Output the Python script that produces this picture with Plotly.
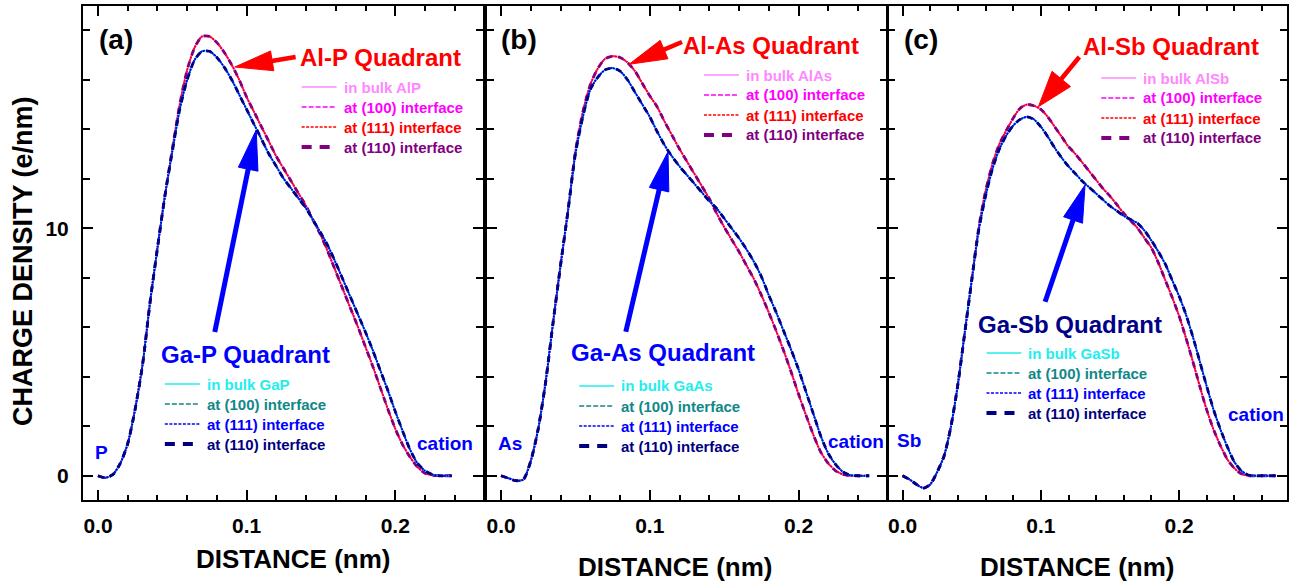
import plotly.graph_objects as go

# ---------------- data ----------------
x_a = [0.000, 0.005, 0.010, 0.015, 0.020, 0.025, 0.030, 0.035, 0.040, 0.045,
       0.050, 0.055, 0.060, 0.065, 0.070, 0.075, 0.080, 0.085, 0.090, 0.095,
       0.100, 0.105, 0.110, 0.115, 0.120, 0.125, 0.130, 0.135, 0.140, 0.145,
       0.150, 0.155, 0.160, 0.165, 0.170, 0.175, 0.180, 0.185, 0.190, 0.195,
       0.200, 0.205, 0.210, 0.215, 0.220, 0.225, 0.230, 0.235, 0.238]
al_p = [0.00, -0.08, 0.05, 0.50, 1.30, 2.70, 4.50, 7.00, 9.20, 11.30,
        13.20, 15.00, 16.40, 17.30, 17.75, 17.75, 17.50, 17.10, 16.60, 16.00,
        15.30, 14.70, 14.10, 13.50, 12.90, 12.40, 11.90, 11.40, 10.90, 10.30,
        9.70, 9.00, 8.25, 7.50, 6.75, 6.00, 5.20, 4.40, 3.55, 2.70,
        1.90, 1.25, 0.75, 0.35, 0.10, 0.02, 0.00, 0.00, 0.00]
ga_p = [0.00, -0.08, 0.05, 0.50, 1.30, 2.70, 4.50, 7.00, 9.20, 11.30,
        13.10, 14.80, 16.00, 16.80, 17.15, 17.15, 16.90, 16.50, 16.00, 15.40,
        14.80, 14.20, 13.60, 13.00, 12.50, 12.00, 11.60, 11.20, 10.80, 10.30,
        9.80, 9.25, 8.60, 7.90, 7.20, 6.50, 5.80, 5.05, 4.25, 3.45,
        2.60, 1.80, 1.05, 0.50, 0.20, 0.05, 0.00, 0.00, 0.00]

x_b = [0.000, 0.005, 0.010, 0.015, 0.020, 0.025, 0.030, 0.035, 0.040, 0.045,
       0.050, 0.055, 0.060, 0.065, 0.070, 0.075, 0.080, 0.085, 0.090, 0.095,
       0.100, 0.105, 0.110, 0.115, 0.120, 0.125, 0.130, 0.135, 0.140, 0.145,
       0.150, 0.155, 0.160, 0.165, 0.170, 0.175, 0.180, 0.185, 0.190, 0.195,
       0.200, 0.205, 0.210, 0.215, 0.220, 0.225, 0.230, 0.235, 0.240, 0.245, 0.2475]
al_as = [0.00, -0.10, -0.20, -0.15, 0.60, 1.90, 3.80, 6.20, 8.50, 10.70,
         13.10, 14.70, 15.80, 16.45, 16.85, 16.95, 16.90, 16.70, 16.35, 15.85,
         15.35, 14.90, 14.30, 13.75, 13.20, 12.70, 12.20, 11.70, 11.20, 10.60,
         10.05, 9.55, 9.05, 8.50, 7.95, 7.30, 6.60, 5.85, 5.05, 4.20,
         3.30, 2.45, 1.65, 0.95, 0.50, 0.20, 0.05, 0.00, 0.00, 0.00, 0.00]
ga_as = [0.00, -0.10, -0.20, -0.15, 0.60, 1.90, 3.80, 6.20, 8.50, 10.70,
         13.00, 14.50, 15.60, 16.10, 16.40, 16.47, 16.35, 16.00, 15.50, 15.00,
         14.50, 13.90, 13.35, 12.90, 12.50, 12.15, 11.80, 11.45, 11.10, 10.80,
         10.40, 10.00, 9.60, 9.15, 8.65, 8.05, 7.30, 6.60, 5.85, 5.10,
         4.30, 3.40, 2.50, 1.60, 0.90, 0.45, 0.15, 0.02, 0.00, 0.00, 0.00]

x_c = [0.000, 0.005, 0.010, 0.015, 0.020, 0.025, 0.030, 0.035, 0.040, 0.045,
       0.050, 0.055, 0.060, 0.065, 0.070, 0.075, 0.080, 0.085, 0.090, 0.095,
       0.100, 0.105, 0.110, 0.115, 0.120, 0.125, 0.130, 0.135, 0.140, 0.145,
       0.150, 0.155, 0.160, 0.165, 0.170, 0.175, 0.180, 0.185, 0.190, 0.195,
       0.200, 0.205, 0.210, 0.215, 0.220, 0.225, 0.230, 0.235, 0.240, 0.245,
       0.250, 0.255, 0.260, 0.265, 0.270]
al_sb = [0.00, -0.15, -0.35, -0.50, -0.35, 0.15, 0.80, 2.00, 3.70, 5.80,
         7.90, 10.00, 11.50, 12.60, 13.40, 13.95, 14.45, 14.85, 15.00, 14.95,
         14.80, 14.50, 14.10, 13.70, 13.30, 13.00, 12.65, 12.30, 11.95, 11.60,
         11.30, 10.95, 10.60, 10.30, 10.00, 9.60, 9.20, 8.60, 7.90, 7.20,
         6.45, 5.55, 4.60, 3.60, 2.65, 1.85, 1.20, 0.65, 0.30, 0.08,
         0.00, 0.00, 0.00, 0.00, 0.00]
ga_sb = [0.00, -0.15, -0.35, -0.50, -0.35, 0.15, 0.80, 2.00, 3.70, 5.80,
         7.90, 9.90, 11.30, 12.40, 13.20, 13.75, 14.15, 14.40, 14.50, 14.40,
         14.10, 13.70, 13.25, 12.85, 12.50, 12.20, 11.90, 11.65, 11.40, 11.15,
         10.90, 10.70, 10.50, 10.35, 10.20, 9.90, 9.50, 9.05, 8.55, 7.90,
         7.25, 6.50, 5.60, 4.60, 3.60, 2.65, 1.85, 1.15, 0.55, 0.20,
         0.03, 0.00, 0.00, 0.00, 0.00]

panel_labels = ["(a)", "(b)", "(c)"]
anions = ["P", "As", "Sb"]
al_names = ["Al-P Quadrant", "Al-As Quadrant", "Al-Sb Quadrant"]
ga_names = ["Ga-P Quadrant", "Ga-As Quadrant", "Ga-Sb Quadrant"]
al_bulk = ["in bulk AlP", "in bulk AlAs", "in bulk AlSb"]
ga_bulk = ["in bulk GaP", "in bulk GaAs", "in bulk GaSb"]
iface = ["at (100) interface", "at (111) interface", "at (110) interface"]
x_ticks = [0.0, 0.1, 0.2]
y_ticks = [0, 10]

# ---------------- styles ----------------
FONT = "Liberation Sans, Arial, sans-serif"
AL_STY = [("#FF80FF", "solid", 1.5), ("#FF00FF", "4px,2px", 1.5),
          ("#FF0000", "2px,1px", 2.0), ("#800080", "6px,6px", 2.8)]
GA_STY = [("#00FFFF", "solid", 1.5), ("#008080", "4px,2px", 1.5),
          ("#0000FF", "2px,1px", 2.0), ("#000080", "6px,6px", 2.8)]
LEG_STY = [("solid", 1.5), ("5px,2px", 1.6), ("3px,1.5px", 1.6), ("10px,8px", 4)]

W, H = 1292, 582
ML, MR, MT, MB = 82, 3, 6, 82
PW, PH = W - ML - MR, H - MT - MB


def fx(p):
    return (p - ML) / PW


def fy(p):
    return (H - MB - p) / PH


fig = go.Figure()
panels = [(x_a, al_p, ga_p), (x_b, al_as, ga_as), (x_c, al_sb, ga_sb)]
for i, (xs, al, ga) in enumerate(panels):
    xr = "x" if i == 0 else f"x{i+1}"
    yr = "y" if i == 0 else f"y{i+1}"
    for ys, sty in ((al, AL_STY), (ga, GA_STY)):
        for col, dash, w in sty:
            fig.add_trace(go.Scatter(x=xs, y=ys, mode="lines", xaxis=xr, yaxis=yr,
                                     line=dict(color=col, dash=dash, width=w, shape="spline", smoothing=0.7),
                                     showlegend=False, hoverinfo="skip"))

domains = [[fx(83), fx(483.3)], [fx(487.3), fx(888.5)], [fx(889), 1.0]]
xranges = [[-0.0101, 0.2588], [-0.0097, 0.2596], [-0.0108, 0.278]]
axis_common = dict(showline=True, linecolor="black", linewidth=2, mirror="ticks",
                   ticks="inside", ticklen=10, tickwidth=1.5, tickcolor="black",
                   showgrid=False, zeroline=False,
                   tickfont=dict(family=FONT, size=21, color="black", weight="bold"))
layout = dict(width=W, height=H, margin=dict(l=ML, r=MR, t=MT, b=MB),
              paper_bgcolor="white", plot_bgcolor="white", showlegend=False)
for i in range(3):
    xk = "xaxis" if i == 0 else f"xaxis{i+1}"
    yk = "yaxis" if i == 0 else f"yaxis{i+1}"
    layout[xk] = dict(axis_common, domain=domains[i], range=xranges[i], anchor="y" if i == 0 else f"y{i+1}",
                      tickvals=x_ticks, ticktext=[f"{v:.1f}" for v in x_ticks], ticklabelstandoff=6,
                      minor=dict(dtick=0.02, tick0=0, ticks="inside", ticklen=5, tickwidth=1.5, tickcolor="black"))
    layout[yk] = dict(axis_common, domain=[0, 1], range=[-0.98, 18.98], anchor="x" if i == 0 else f"x{i+1}",
                      tickvals=y_ticks, showticklabels=(i == 0), ticklabelstandoff=8,
                      minor=dict(dtick=2, tick0=0, ticks="inside", ticklen=7, tickwidth=1.5, tickcolor="black"))
    if i > 0:
        layout[yk]["matches"] = "y"
fig.update_layout(**layout)

ann = []
shapes = []


def text(px, py, s, size, color, xanchor="center", angle=0):
    ann.append(dict(x=fx(px), y=fy(py), xref="paper", yref="paper", text=s, showarrow=False,
                    xanchor=xanchor, yanchor="middle", textangle=angle,
                    font=dict(family=FONT, size=size, color=color, weight="bold")))


def arrow(tx, ty, hx, hy, color, hl=38, hw=20, sw=4.5):
    dx, dy = hx - tx, hy - ty
    L = (dx * dx + dy * dy) ** 0.5
    ux, uy = dx / L, dy / L
    bx, by = hx - ux * hl, hy - uy * hl
    nx, ny = -uy, ux
    shapes.append(dict(type="line", xref="paper", yref="paper", x0=fx(tx), y0=fy(ty),
                       x1=fx(bx + ux * 2), y1=fy(by + uy * 2), line=dict(color=color, width=sw)))
    p1 = (bx + nx * hw / 2, by + ny * hw / 2)
    p2 = (bx - nx * hw / 2, by - ny * hw / 2)
    path = f"M{fx(hx)},{fy(hy)} L{fx(p1[0])},{fy(p1[1])} L{fx(p2[0])},{fy(p2[1])} Z"
    shapes.append(dict(type="path", xref="paper", yref="paper", path=path,
                       fillcolor=color, line=dict(color=color, width=1)))


def legend(x0, y0, items, colors):
    for k, (lab, col) in enumerate(zip(items, colors)):
        yy = y0 + 20 * k
        dash, w = LEG_STY[k]
        shapes.append(dict(type="line", xref="paper", yref="paper", x0=fx(x0), x1=fx(x0 + 35),
                           y0=fy(yy), y1=fy(yy), line=dict(color=col, width=w, dash=dash)))
        text(x0 + 40, yy, lab, 15, col, xanchor="left")


AL_TXT = ["#FF88FF", "#FF00FF", "#FF0000", "#800080"]
GA_TXT = ["#22EEEE", "#108888", "#0000FF", "#000080"]

# panel (a)
text(116, 40, panel_labels[0], 28, "black")
text(381, 57, al_names[0], 24, "#FF0000")
arrow(296, 57, 235, 67, "#FF0000")
text(246, 354, ga_names[0], 24, "#0000FF")
arrow(215, 332, 256.5, 130, "#0000FF", hl=40, hw=20, sw=5)
legend(302, 87, [al_bulk[0]] + iface, AL_TXT)
legend(165, 384, [ga_bulk[0]] + iface, GA_TXT)
text(102, 452, anions[0], 19, "#0000FF")
text(446, 443, "cation", 19, "#0000FF")

# panel (b)
text(520, 40, panel_labels[1], 28, "black")
text(772, 46, al_names[1], 24, "#FF0000")
arrow(683, 42, 630, 64.3, "#FF0000")
text(664, 352, ga_names[1], 24, "#0000FF")
arrow(626.7, 331.7, 669, 151.7, "#0000FF", hl=39, hw=20, sw=5)
legend(705, 75, [al_bulk[1]] + iface, AL_TXT)
legend(580, 386, [ga_bulk[1]] + iface, GA_TXT)
text(511, 443, anions[1], 19, "#0000FF")
text(857, 441, "cation", 19, "#0000FF")

# panel (c)
text(922, 40, panel_labels[2], 28, "black")
text(1173, 47, al_names[2], 24, "#FF0000")
arrow(1081, 57, 1040, 106.7, "#FF0000", hl=36, hw=24)
text(1072, 324, ga_names[2], 24, "#000088")
arrow(1046.7, 301.7, 1086.7, 185, "#0000FF", hl=37, hw=20, sw=5)
legend(1103, 78, [al_bulk[2]] + iface, AL_TXT)
legend(988, 353, [ga_bulk[2]] + iface, GA_TXT)
text(910, 440, anions[2], 19, "#0000FF")
text(1258, 414, "cation", 19, "#0000FF")

# axis titles
text(23, 261, "CHARGE DENSITY (e/nm)", 27, "black", angle=-90)
text(294, 559, "DISTANCE (nm)", 26, "black")
text(676, 567, "DISTANCE (nm)", 26, "black")
text(1079, 567, "DISTANCE (nm)", 26, "black")

fig.update_layout(annotations=ann, shapes=shapes)
fig.write_html("out.html")
